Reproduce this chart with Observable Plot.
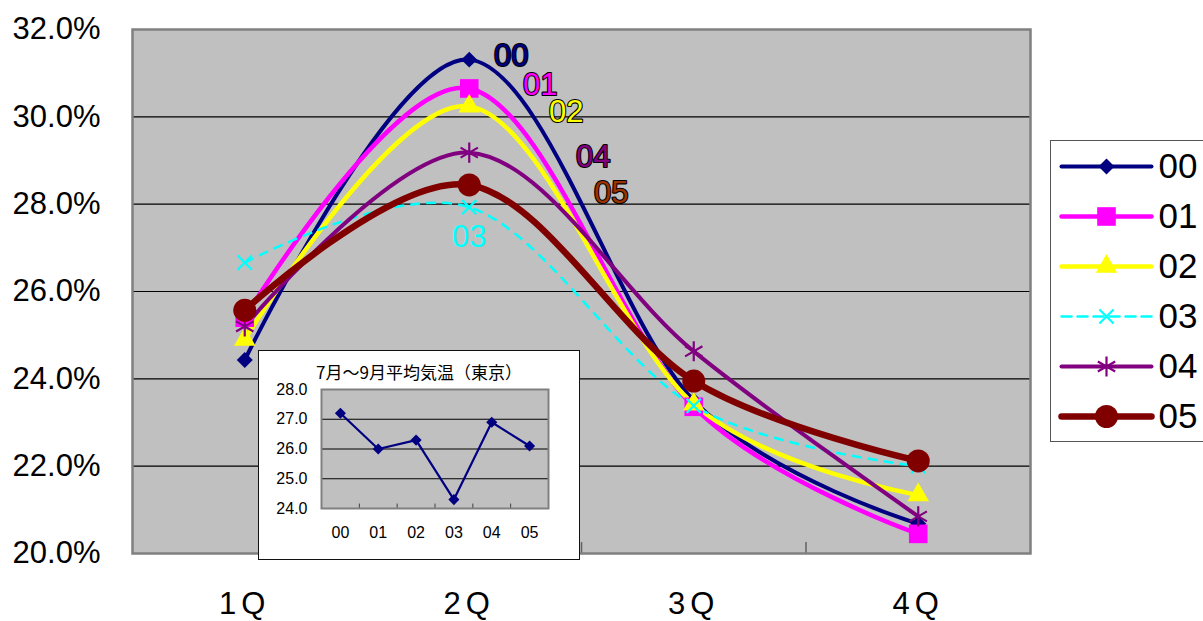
<!DOCTYPE html>
<html>
<head>
<meta charset="utf-8">
<script src="https://cdn.jsdelivr.net/npm/d3@7"></script>
<script src="https://cdn.jsdelivr.net/npm/@observablehq/plot@0.6"></script>
<style>
  html, body { margin: 0; padding: 0; background: white; }
  #wrap { position: relative; width: 1203px; height: 621px; overflow: hidden; font-family: "Liberation Sans", Arial, sans-serif; }
  #main { position: absolute; left: 0; top: 0; }
  #main g[aria-label="x-axis tick label"] text { letter-spacing: 5px; }
  #inset { position: absolute; left: 258px; top: 350px; width: 322px; height: 210px; background: white; border: 1.5px solid #111; box-sizing: border-box; }
  #insetTitle { position: absolute; left: 0; top: 10px; width: 100%; text-align: center; font-family: "Noto Sans CJK JP", sans-serif; font-size: 17px; line-height: 22px; color: #000; }
  #insetPlot { position: absolute; left: 0; top: 0; }
  #legend { position: absolute; left: 1050px; top: 140px; width: 160px; height: 302px; background: white; border: 1px solid #555; box-sizing: border-box; }
</style>
</head>
<body>
<div id="wrap">
  <div id="main"></div>
  <div id="inset"><div id="insetPlot"></div><div id="insetTitle"></div></div>
  <div id="legend"></div>
</div>
<script>
// ---- data ----
const quarters = ["1Q", "2Q", "3Q", "4Q"];
const seriesNames = ["00", "01", "02", "03", "04", "05"];
const s00 = [24.43, 31.31, 23.50, 20.68];
const s01 = [25.40, 30.65, 23.36, 20.45];
const s02 = [24.90, 30.24, 23.42, 21.34];
const s03 = [26.66, 27.93, 23.38, 22.00];
const s04 = [25.20, 29.18, 24.63, 20.85];
const s05 = [25.57, 28.44, 23.95, 22.12];
const yTicks = [20, 22, 24, 26, 28, 30, 32];

const insetTitleText = "7月～9月平均気温（東京）";
const insetYears = ["00", "01", "02", "03", "04", "05"];
const insetTemps = [27.2, 26.0, 26.3, 24.3, 26.9, 26.1];
const insetTicks = [24, 25, 26, 27, 28];

// ---- styles ----
const seriesValues = [s00, s01, s02, s03, s04, s05];
const styles = {
  "00": {color: "#000080", symbol: "diamond2", r: 7.2, width: 4, dash: null, filled: true, dx: 42, dy: -4, lfill: "#000080", lstroke: "#000"},
  "01": {color: "#ff00ff", symbol: "square", r: 10.5, width: 4.5, dash: null, filled: true, dx: 71, dy: -3, lfill: "#ff00ff", lstroke: "#000"},
  "02": {color: "#ffff00", symbol: "triangle", r: 8, width: 4.5, dash: null, filled: true, dx: 97, dy: 6, lfill: "#ffff00", lstroke: "#000"},
  "03": {color: "#00ffff", symbol: "times", r: 6.5, width: 2.5, dash: "10,6", filled: false, dx: 0, dy: 30, lfill: "#00ffff", lstroke: null},
  "04": {color: "#800080", symbol: "asterisk", r: 9.5, width: 4, dash: null, filled: false, dx: 124, dy: 4, lfill: "#800080", lstroke: "#000"},
  "05": {color: "#800000", symbol: "circle", r: 11.5, width: 6.5, dash: null, filled: true, dx: 142, dy: 8, lfill: "#993300", lstroke: "#000"}
};

const rows = seriesNames.flatMap((s, k) => seriesValues[k].map((v, i) => ({series: s, q: i, v})));
const boundaries = d3.range(1, quarters.length).map(i => i - 0.5);

const lineMarks = seriesNames.map(s => Plot.line(rows.filter(d => d.series === s), {
  x: "q", y: "v", curve: "cardinal", stroke: styles[s].color, strokeWidth: styles[s].width,
  strokeDasharray: styles[s].dash, strokeLinejoin: "round", strokeLinecap: styles[s].dash ? "butt" : "round"
}));
const dotMarks = seriesNames.map(s => Plot.dot(rows.filter(d => d.series === s), {
  x: "q", y: "v", symbol: () => styles[s].symbol, r: styles[s].r,
  fill: styles[s].filled ? styles[s].color : "none",
  stroke: styles[s].filled ? "none" : styles[s].color, strokeWidth: 2.2
}));
const labelMarks = seriesNames.map(s => Plot.text(rows.filter(d => d.series === s && d.q === 1), {
  x: "q", y: "v", text: "series", dx: styles[s].dx, dy: styles[s].dy,
  fill: styles[s].lfill, stroke: styles[s].lstroke || undefined, strokeWidth: 2.2,
  fontSize: 31, textAnchor: "middle"
}));

const main = Plot.plot({
  width: 1203, height: 621,
  marginLeft: 132, marginRight: 173, marginTop: 29, marginBottom: 68,
  x: {domain: [-0.5, quarters.length - 0.5]},
  y: {domain: [20, 32]},
  style: {background: "white", fontFamily: "'Liberation Sans', Arial, sans-serif", color: "black"},
  marks: [
    Plot.frame({fill: "#c0c0c0", stroke: null}),
    Plot.ruleY(yTicks.slice(1, -1), {stroke: "black", strokeWidth: 1.2}),
    Plot.ruleX(boundaries, {y1: 20, y2: 20.25, stroke: "#606060", strokeWidth: 1.5}),
    Plot.frame({stroke: "#808080", strokeWidth: 2.5}),
    ...lineMarks,
    ...dotMarks,
    ...labelMarks,
    Plot.axisY(yTicks, {tickSize: 0, tickPadding: 32, fontSize: 31, tickFormat: d => d.toFixed(1) + "%", label: null}),
    Plot.axisX(d3.range(quarters.length), {tickSize: 0, tickPadding: 38, fontSize: 31, tickFormat: i => quarters[i], label: null})
  ]
});
document.getElementById("main").appendChild(main);

// ---- inset ----
document.getElementById("insetTitle").textContent = insetTitleText;
const insetRows = insetYears.map((y, i) => ({i, t: insetTemps[i]}));
const inset = Plot.plot({
  width: 319, height: 207,
  marginLeft: 62, marginRight: 30, marginTop: 38, marginBottom: 50,
  x: {domain: [-0.5, insetYears.length - 0.5]},
  y: {domain: [24, 28]},
  style: {background: "white", fontFamily: "'Liberation Sans', Arial, sans-serif", color: "black"},
  marks: [
    Plot.frame({fill: "#c0c0c0", stroke: null}),
    Plot.ruleY(insetTicks.slice(1, -1), {stroke: "black", strokeWidth: 1}),
    Plot.ruleX(d3.range(1, insetYears.length).map(i => i - 0.5), {y1: 24, y2: 24.15, stroke: "#404040", strokeWidth: 1}),
    Plot.frame({stroke: "#808080", strokeWidth: 2}),
    Plot.line(insetRows, {x: "i", y: "t", stroke: "#000080", strokeWidth: 2.2}),
    Plot.dot(insetRows, {x: "i", y: "t", symbol: "diamond2", r: 5, fill: "#000080"}),
    Plot.axisY(insetTicks, {tickSize: 0, tickPadding: 14, fontSize: 16, tickFormat: d => d.toFixed(1), label: null}),
    Plot.axisX(d3.range(insetYears.length), {tickSize: 0, tickPadding: 18, fontSize: 16, tickFormat: i => insetYears[i], label: null})
  ]
});
document.getElementById("insetPlot").appendChild(inset);

// ---- legend ----
const legRows = seriesNames.flatMap((s, k) => [0, 1].map(x => ({series: s, k, x})));
const legMid = seriesNames.map((s, k) => ({series: s, k, x: 0.5}));
const legend = Plot.plot({
  width: 158, height: 300,
  margin: 0,
  x: {domain: [0, 1], range: [10, 100], axis: null},
  y: {domain: [-0.5, seriesNames.length - 0.5], range: [0, 300], axis: null},
  style: {background: "white", fontFamily: "'Liberation Sans', Arial, sans-serif", color: "black"},
  marks: [
    ...seriesNames.map(s => Plot.line(legRows.filter(d => d.series === s), {
      x: "x", y: "k", stroke: styles[s].color, strokeWidth: styles[s].width, strokeDasharray: styles[s].dash
    })),
    ...seriesNames.map(s => Plot.dot(legMid.filter(d => d.series === s), {
      x: "x", y: "k", symbol: () => styles[s].symbol, r: styles[s].r,
      fill: styles[s].filled ? styles[s].color : "none",
      stroke: styles[s].filled ? "none" : styles[s].color, strokeWidth: 2.2
    })),
    Plot.text(legMid, {x: 1, y: "k", text: "series", dx: 7, textAnchor: "start", fontSize: 35, fill: "black"})
  ]
});
document.getElementById("legend").appendChild(legend);
</script>
</body>
</html>
